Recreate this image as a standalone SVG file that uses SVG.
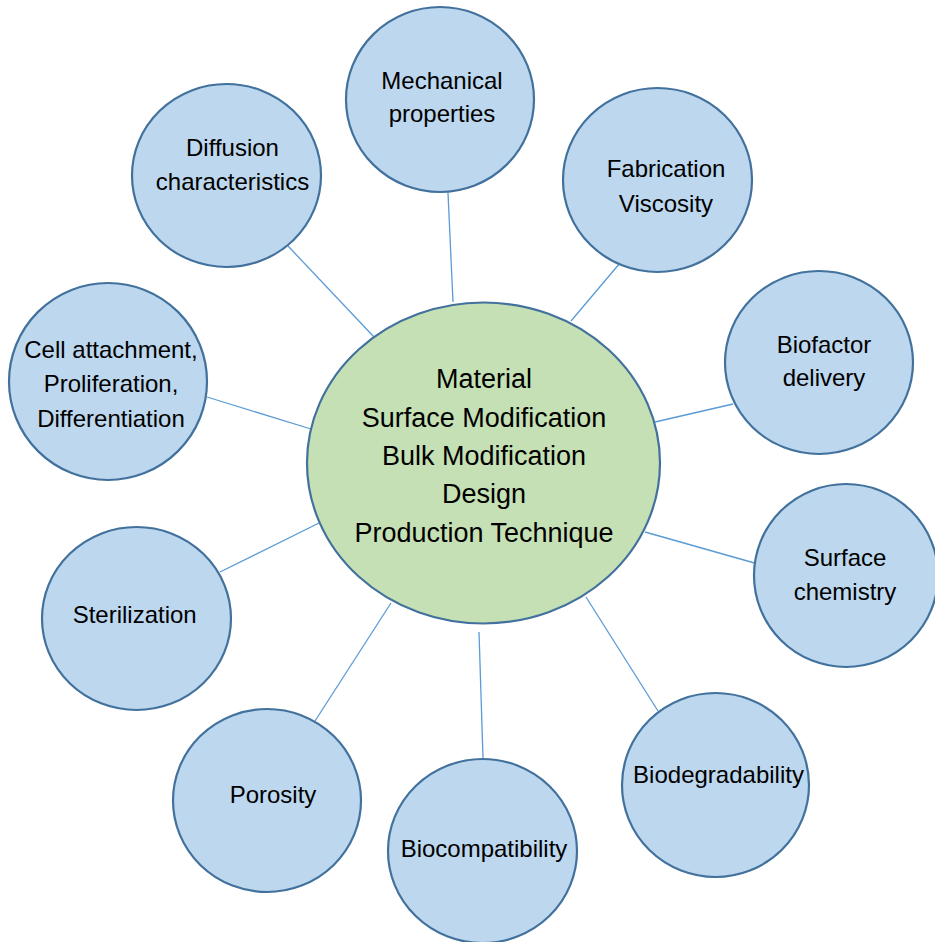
<svg xmlns="http://www.w3.org/2000/svg" width="935" height="942" viewBox="0 0 935 942">
<style>
.sat{fill:#BDD7EE;stroke:#41719C;stroke-width:2.2}
.hub{fill:#C5E0B4;stroke:#41719C;stroke-width:2.2}
.lk{stroke:#5B9BD5;stroke-width:1.3;fill:none}
text{font-family:"Liberation Sans",Arial,sans-serif;font-size:24px;fill:#000;text-anchor:middle}
.ht{font-size:27px}
</style>
<rect width="935" height="942" fill="#fff"/>
<g id="connectors">
<line class="lk" x1="448" y1="193" x2="453" y2="302"/>
<line class="lk" x1="288" y1="246" x2="374" y2="337"/>
<line class="lk" x1="620" y1="263" x2="571" y2="321"/>
<line class="lk" x1="733" y1="404" x2="655" y2="422"/>
<line class="lk" x1="207" y1="397" x2="311" y2="429"/>
<line class="lk" x1="220" y1="572" x2="319" y2="523"/>
<line class="lk" x1="645" y1="532" x2="758" y2="564"/>
<line class="lk" x1="586" y1="597" x2="658" y2="711"/>
<line class="lk" x1="391" y1="603" x2="315" y2="721"/>
<line class="lk" x1="479" y1="632" x2="483" y2="758"/>
</g>
<g id="center">
<ellipse class="hub" cx="483.5" cy="463" rx="176.5" ry="160.5"/>
<text class="ht" x="484" y="388">Material</text>
<text class="ht" x="484" y="427">Surface Modification</text>
<text class="ht" x="484" y="465">Bulk Modification</text>
<text class="ht" x="484" y="503">Design</text>
<text class="ht" x="484" y="542">Production Technique</text>
</g>
<g id="mechanical">
<ellipse class="sat" cx="440" cy="99.5" rx="94" ry="92.5"/>
<text x="442" y="89">Mechanical</text>
<text x="442" y="122">properties</text>
</g>
<g id="diffusion">
<ellipse class="sat" cx="226.5" cy="175.5" rx="94.5" ry="91.5"/>
<text x="232.5" y="156">Diffusion</text>
<text x="232.5" y="190">characteristics</text>
</g>
<g id="fabrication">
<ellipse class="sat" cx="657.5" cy="180" rx="94.5" ry="92"/>
<text x="666" y="177">Fabrication</text>
<text x="666" y="212">Viscosity</text>
</g>
<g id="biofactor">
<ellipse class="sat" cx="819" cy="362.5" rx="94" ry="91.5"/>
<text x="824" y="353">Biofactor</text>
<text x="824" y="386">delivery</text>
</g>
<g id="cell">
<ellipse class="sat" cx="108" cy="381.5" rx="99" ry="98.5"/>
<text x="111" y="358">Cell attachment,</text>
<text x="111" y="392">Proliferation,</text>
<text x="111" y="427">Differentiation</text>
</g>
<g id="sterilization">
<ellipse class="sat" cx="136.5" cy="618.5" rx="94.5" ry="91.5"/>
<text x="134.7" y="623">Sterilization</text>
</g>
<g id="surface">
<ellipse class="sat" cx="846" cy="575.5" rx="92" ry="91.5"/>
<text x="845" y="566">Surface</text>
<text x="845" y="600">chemistry</text>
</g>
<g id="biodegradability">
<ellipse class="sat" cx="715.5" cy="785" rx="93.5" ry="92"/>
<text x="718.5" y="783">Biodegradability</text>
</g>
<g id="porosity">
<ellipse class="sat" cx="267" cy="800.5" rx="94" ry="91.5"/>
<text x="273" y="803">Porosity</text>
</g>
<g id="biocompatibility">
<ellipse class="sat" cx="482.5" cy="851" rx="94.5" ry="92"/>
<text x="484" y="857">Biocompatibility</text>
</g>
</svg>
